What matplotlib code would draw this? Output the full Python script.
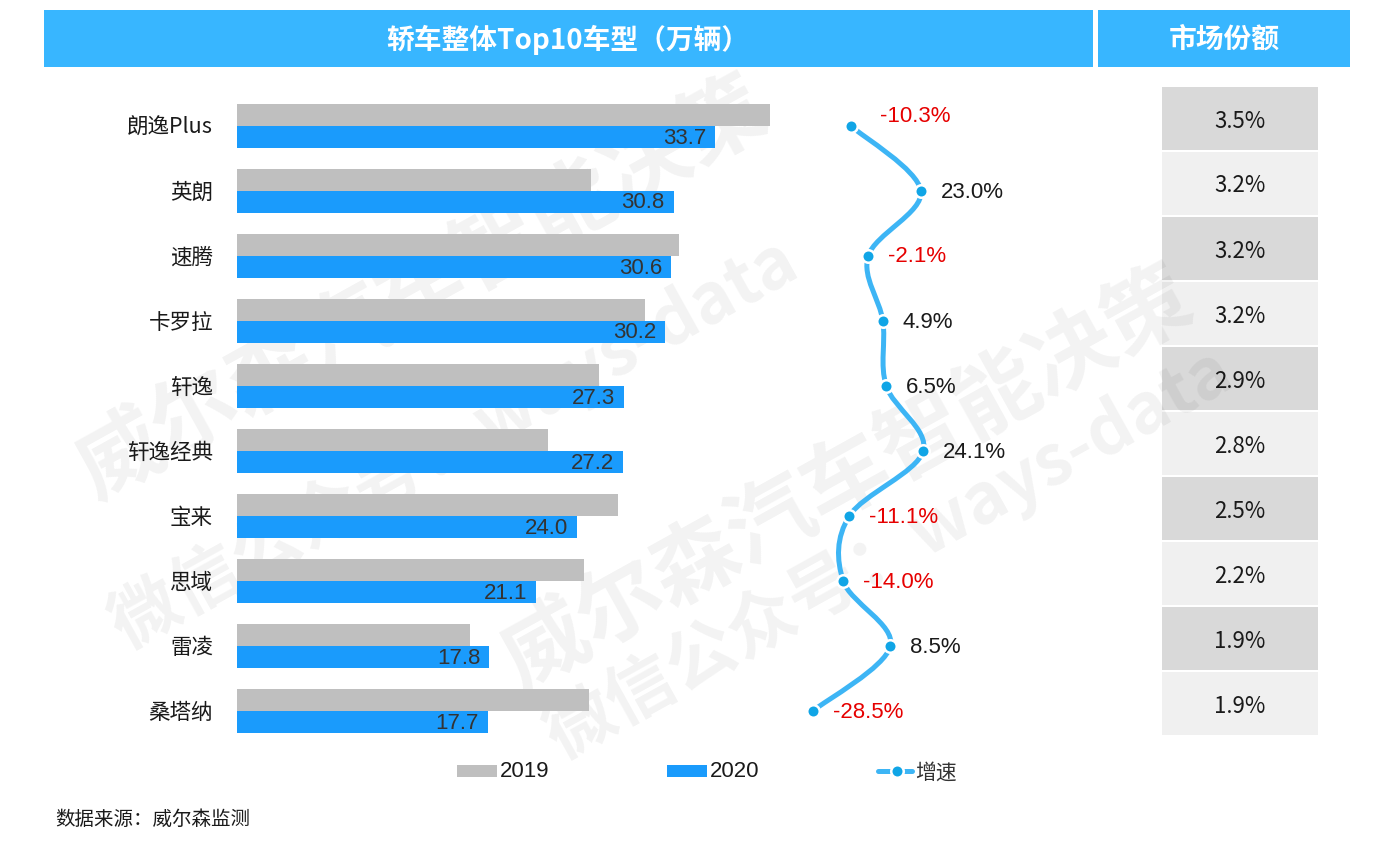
import matplotlib.pyplot as plt
from matplotlib.patches import Rectangle, PathPatch
from matplotlib.path import Path

plt.rcParams['font.family'] = ['Noto Sans CJK SC', 'DejaVu Sans']

# data
models = ['朗逸Plus', '英朗', '速腾', '卡罗拉', '轩逸', '轩逸经典', '宝来', '思域', '雷凌', '桑塔纳']
sales_2019 = [37.6, 25.0, 31.2, 28.8, 25.5, 21.9, 26.9, 24.5, 16.4, 24.8]
sales_2020 = [33.7, 30.8, 30.6, 30.2, 27.3, 27.2, 24.0, 21.1, 17.8, 17.7]
growth = [-10.3, 23.0, -2.1, 4.9, 6.5, 24.1, -11.1, -14.0, 8.5, -28.5]
share = ['3.5%', '3.2%', '3.2%', '3.2%', '2.9%', '2.8%', '2.5%', '2.2%', '1.9%', '1.9%']

title_main = '轿车整体Top10车型（万辆）'
title_share = '市场份额'
source = '数据来源：威尔森监测'

HEAD = '#38B6FF'
GRAY = '#BFBFBF'
BLUE = '#1A9BFC'
LINE = '#3DB5F5'
DOT = '#10A5E6'
NUM_FONT = ['Liberation Sans Narrow', 'Liberation Sans', 'DejaVu Sans']
ARIAL = ['Liberation Sans', 'DejaVu Sans']

W, H = 1390, 855
fig = plt.figure(figsize=(13.9, 8.55), dpi=100)


def ax_px(x0, y0, x1, y1):
    return fig.add_axes([x0 / W, 1 - y1 / H, (x1 - x0) / W, (y1 - y0) / H])


# background axes in pixel coords for headers, table, legend
bg = ax_px(0, 0, W, H)
bg.set_xlim(0, W)
bg.set_ylim(H, 0)
bg.axis('off')

bg.add_patch(Rectangle((44, 10), 1049, 57, color=HEAD, lw=0))
bg.add_patch(Rectangle((1098, 10), 252, 57, color=HEAD, lw=0))
bg.text(568, 40, title_main, color='white', fontsize=20, fontweight='bold',
        ha='center', va='center')
bg.text(1224, 40, title_share, color='white', fontsize=20, fontweight='bold',
        ha='center', va='center')

# market share table
for i, s in enumerate(share):
    y0 = 87 + 65 * i
    bg.add_patch(Rectangle((1162, y0), 156, 63, lw=0,
                           color='#D9D9D9' if i % 2 == 0 else '#F0F0F0'))
    bg.text(1240, y0 + 34, s, fontsize=16, color='#1a1a1a', ha='center', va='center')

# row layout
n = len(models)
top_px, row_px = 126, 65
y_top, y_bot = top_px - row_px / 2, top_px + (n - 0.5) * row_px

# bars
ax = ax_px(237, y_top, 837, y_bot)
px_per_unit = 14.18
ax.set_xlim(0, 600 / px_per_unit)
ax.set_ylim(n - 0.5, -0.5)
ax.axis('off')
ys = list(range(n))
bh = 22 / row_px
ax.barh([y - bh / 2 for y in ys], sales_2019, height=bh, color=GRAY, lw=0)
ax.barh([y + bh / 2 for y in ys], sales_2020, height=bh, color=BLUE, lw=0)
for y, v in zip(ys, sales_2020):
    ax.annotate(f'{v:.1f}', (v, y + bh / 2), xytext=(-9, -1), textcoords='offset pixels',
                ha='right', va='center', fontsize=16, color='#333333', family=NUM_FONT)
for y, m in zip(ys, models):
    ax.annotate(m, (0, y), xytext=(-24, -2), textcoords='offset pixels',
                ha='right', va='center', fontsize=15.5, color='#1a1a1a')

# growth line
gx = ax_px(780, y_top, 980, y_bot)
px_per_pct = 2.1
zero_px = 872.6
gx.set_xlim((780 - zero_px) / px_per_pct, (980 - zero_px) / px_per_pct)
gx.set_ylim(n - 0.5, -0.5)
gx.axis('off')
pts = list(zip(growth, ys))
verts = [pts[0]]
codes = [Path.MOVETO]
for i in range(n - 1):
    p0 = pts[max(i - 1, 0)]
    p1, p2 = pts[i], pts[i + 1]
    p3 = pts[min(i + 2, n - 1)]
    c1 = (p1[0] + (p2[0] - p0[0]) / 6, p1[1] + (p2[1] - p0[1]) / 6)
    c2 = (p2[0] - (p3[0] - p1[0]) / 6, p2[1] - (p3[1] - p1[1]) / 6)
    verts += [c1, c2, p2]
    codes += [Path.CURVE4] * 3
gx.add_patch(PathPatch(Path(verts, codes), fill=False, ec=LINE, lw=3.6,
                       capstyle='round'))
gx.plot(growth, ys, 'o', ms=9, mfc=DOT, mec='white', mew=1.8, zorder=3)
for i, (g, y) in enumerate(zip(growth, ys)):
    off = (29, 9) if i == 0 else (20, -1)
    gx.annotate(f'{g:.1f}%', (g, y), xytext=off,
                textcoords='offset pixels', ha='left', va='center',
                fontsize=16, family=ARIAL,
                color='#E60000' if g < 0 else '#1a1a1a')

# legend
bg.add_patch(Rectangle((457, 765), 40, 12, color=GRAY, lw=0))
bg.text(500, 771, '2019', fontsize=16, family=NUM_FONT, color='#1a1a1a', va='center')
bg.add_patch(Rectangle((667, 765), 40, 12, color=BLUE, lw=0))
bg.text(710, 771, '2020', fontsize=16, family=NUM_FONT, color='#1a1a1a', va='center')
bg.plot([878, 912], [771, 771], color=LINE, lw=3.6, solid_capstyle='round')
bg.plot([897], [771], 'o', ms=9, mfc=DOT, mec='white', mew=1.8)
bg.text(915, 773, '增速', fontsize=15, color='#333333', va='center')

bg.text(55, 819, source, fontsize=14, color='#1a1a1a', va='center')

# watermark
wm = dict(color='black', alpha=0.05, fontweight='bold', rotation=29,
          rotation_mode='anchor', ha='left', va='baseline')
bg.text(95, 500, '威尔森汽车智能决策', fontsize=62, **wm)
bg.text(125, 650, '微信公众号：ways-data', fontsize=50, **wm)
bg.text(520, 690, '威尔森汽车智能决策', fontsize=62, **wm)
bg.text(560, 760, '微信公众号：ways-data', fontsize=50, **wm)

fig.savefig('out.png', dpi=100)
